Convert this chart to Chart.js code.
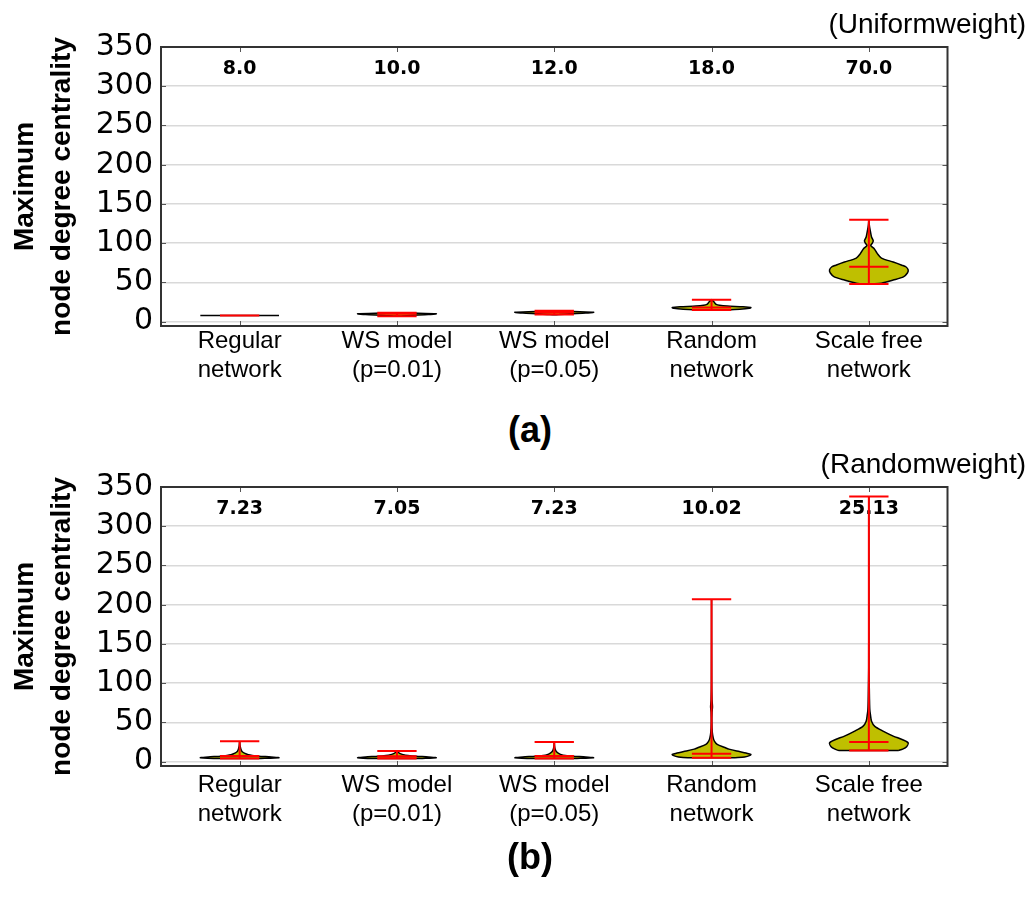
<!DOCTYPE html>
<html>
<head>
<meta charset="utf-8">
<script src="https://cdn.jsdelivr.net/npm/chart.js@4.4.1/dist/chart.umd.min.js"></script>
<style>
body { margin: 0; background: #fff; }
#wrap { position: relative; width: 1032px; height: 910px; }
canvas { position: absolute; left: 0; }
.panel { position: absolute; left: 480px; width: 100px; text-align: center; font: bold 36px 'Liberation Sans', Arial, sans-serif; line-height: 40px; color: #000; }
</style>
</head>
<body>
<div id="wrap">
  <canvas id="uniform" width="1032" height="400" style="top:0"></canvas>
  <div class="panel" style="top:410px">(a)</div>
  <canvas id="random" width="1032" height="400" style="top:440px"></canvas>
  <div class="panel" style="top:837px">(b)</div>
</div>
<script>
'use strict';

var categories = [['Regular', 'network'], ['WS model', '(p=0.01)'], ['WS model', '(p=0.05)'], ['Random', 'network'], ['Scale free', 'network']];
var positions = [1, 2, 3, 4, 5];
var yTicks = [0, 50, 100, 150, 200, 250, 300, 350];

// violin outlines as [value, half width], bottom to top
var regUniform = [[8, 0.25]];
var ws1Uniform = [[7, 0.02], [8, 0.08], [9, 0.2], [10, 0.25], [11, 0.1], [11.5, 0]];
var ws5Uniform = [[9, 0.03], [10, 0.1], [11, 0.2], [12, 0.25], [13, 0.12], [14, 0]];
var rndUniform = [[15, 0.05], [16, 0.18], [17, 0.24], [18, 0.25], [19, 0.2], [20, 0.1], [21, 0.05], [22, 0.03], [24, 0.02], [26, 0.012], [28, 0]];
var sfUniform = [[48, 0.02], [49, 0.08], [53, 0.155], [57, 0.22], [62, 0.245], [66, 0.25], [70, 0.235], [72, 0.21], [76, 0.155], [81, 0.08], [87, 0.053], [93, 0.034], [97, 0.012], [100, 0.022], [103, 0.028], [108, 0.017], [117, 0.008], [123, 0.003], [130, 0]];
var uniformMeans = [8.0, 10.0, 12.0, 18.0, 70.0];
var uniformMins = [8, 7, 9, 15, 48];
var uniformMaxs = [8, 11.5, 14, 28, 130];

var regRandom = [[4, 0.12], [5, 0.25], [6, 0.2], [7, 0.12], [8, 0.08], [9, 0.055], [11, 0.03], [13, 0.015], [16, 0.008], [20, 0.003], [26, 0]];
var ws1Random = [[4, 0.15], [5, 0.25], [6, 0.2], [7, 0.12], [8, 0.07], [9, 0.04], [10, 0.025], [11, 0.015], [12, 0.008], [13.5, 0]];
var ws5Random = [[4, 0.13], [5, 0.25], [6, 0.2], [7, 0.12], [8, 0.07], [9, 0.045], [11, 0.025], [13, 0.013], [16, 0.006], [20, 0.002], [25, 0]];
var rndRandom = [[5, 0.15], [6, 0.21], [8, 0.245], [9.3, 0.25], [11, 0.22], [13.5, 0.16], [16, 0.11], [18, 0.085], [22, 0.036], [26, 0.019], [30, 0.011], [37, 0.005], [50, 0.002], [63, 0.003], [70, 0.006], [79, 0.003], [100, 0.001], [207, 0]];
var sfRandom = [[14.4, 0.19], [16, 0.215], [19, 0.24], [24, 0.25], [28, 0.215], [32.6, 0.155], [39, 0.09], [45, 0.038], [51.6, 0.017], [60, 0.01], [66.5, 0.006], [80, 0.004], [92, 0.003], [120, 0.001], [338, 0]];
var randomMeans = [7.23, 7.05, 7.23, 10.02, 25.13];
var randomMins = [4, 4, 4, 5, 14.4];
var randomMaxs = [26, 13.5, 25, 207, 338];

var CAP = 0.125;

function violinPoints(pos, profile) {
    var right = profile.map(function (p) { return {x: pos + p[1], y: p[0]}; });
    var left = profile.slice().reverse().map(function (p) { return {x: pos - p[1], y: p[0]}; });
    var pts = right.concat(left);
    pts.push(pts[0]);
    return pts;
}

function statPoints(pos, min, mean, max) {
    var pts = [{x: pos, y: min}, {x: pos, y: max}, {x: pos, y: null}];
    [min, mean, max].forEach(function (v) {
        pts.push({x: pos - CAP, y: v}, {x: pos + CAP, y: v}, {x: pos, y: null});
    });
    return pts;
}

function buildDatasets(profiles, mins, means, maxs) {
    var sets = [];
    positions.forEach(function (pos, i) {
        sets.push({
            data: statPoints(pos, mins[i], means[i], maxs[i]),
            borderColor: '#ff0000',
            borderWidth: 2,
            tension: 0,
            order: 0
        });
        sets.push({
            data: violinPoints(pos, profiles[i]),
            borderColor: '#000',
            borderWidth: 1.5,
            backgroundColor: '#bfbf00',
            fill: 'shape',
            tension: 0.25,
            order: 1
        });
    });
    return sets;
}

function panelDecor(means, digits, corner) {
    return {
        id: 'panelDecor',
        beforeDatasetsDraw: function (chart) {
            var ctx = chart.ctx, area = chart.chartArea, xs = chart.scales.x;
            ctx.save();
            ctx.fillStyle = '#000';
            ctx.textAlign = 'center';
            ctx.textBaseline = 'middle';
            ctx.font = 'bold 19px "DejaVu Sans"';
            means.forEach(function (m, i) {
                ctx.fillText(m.toFixed(digits), xs.getPixelForValue(positions[i]), area.top + 22);
            });
            ctx.font = '28px "Liberation Sans"';
            ctx.textAlign = 'right';
            ctx.fillText(corner, chart.width - 6, area.top - 22);
            ctx.restore();
        },
        afterDraw: function (chart) {
            var ctx = chart.ctx, a = chart.chartArea, xs = chart.scales.x, ys = chart.scales.y;
            ctx.save();
            // small inward ticks on all four sides
            ctx.strokeStyle = '#555';
            ctx.lineWidth = 1;
            ctx.beginPath();
            positions.forEach(function (p) {
                var px = Math.round(xs.getPixelForValue(p)) + 0.5;
                ctx.moveTo(px, a.bottom); ctx.lineTo(px, a.bottom - 5);
                ctx.moveTo(px, a.top); ctx.lineTo(px, a.top + 5);
            });
            yTicks.forEach(function (v) {
                var py = Math.round(ys.getPixelForValue(v)) + 0.5;
                ctx.moveTo(a.left, py); ctx.lineTo(a.left + 5, py);
                ctx.moveTo(a.right, py); ctx.lineTo(a.right - 5, py);
            });
            ctx.stroke();
            ctx.strokeStyle = '#333';
            ctx.lineWidth = 2;
            ctx.strokeRect(a.left, a.top, a.right - a.left, a.bottom - a.top);
            ctx.restore();
        }
    };
}

function makeChart(id, datasets, decor, labelPad) {
    return new Chart(document.getElementById(id), {
        type: 'scatter',
        data: {datasets: datasets},
        options: {
            responsive: false,
            animation: false,
            showLine: true,
            layout: {padding: {top: 47, right: 84.5, left: 0, bottom: 0}},
            elements: {point: {radius: 0, hoverRadius: 0}},
            plugins: {legend: {display: false}, tooltip: {enabled: false}},
            scales: {
                x: {
                    type: 'linear',
                    min: 0.5,
                    max: 5.5,
                    grid: {display: false},
                    border: {display: false},
                    afterBuildTicks: function (s) { s.ticks = positions.map(function (v) { return {value: v}; }); },
                    afterFit: function (s) { s.height = 400 - 326; },
                    ticks: {
                        autoSkip: false,
                        maxRotation: 0,
                        padding: labelPad,
                        color: '#000',
                        font: {family: 'Liberation Sans', size: 24, lineHeight: 1.2},
                        callback: function (v) { return categories[v - 1]; }
                    }
                },
                y: {
                    min: -5.5,
                    max: 350,
                    border: {display: false},
                    grid: {color: '#d9d9d9', lineWidth: 1.5, drawTicks: false},
                    afterBuildTicks: function (s) { s.ticks = yTicks.map(function (v) { return {value: v}; }); },
                    afterFit: function (s) { s.width = 161; },
                    ticks: {padding: 8, color: '#000', font: {family: 'DejaVu Sans', size: 30}},
                    title: {
                        display: true,
                        text: ['Maximum', 'node degree centrality'],
                        color: '#000',
                        padding: {top: 6.5, bottom: 0},
                        font: {family: 'Liberation Sans', weight: 'bold', size: 28, lineHeight: 1.32}
                    }
                }
            }
        },
        plugins: [decor]
    });
}

makeChart('uniform',
    buildDatasets([regUniform, ws1Uniform, ws5Uniform, rndUniform, sfUniform], uniformMins, uniformMeans, uniformMaxs),
    panelDecor(uniformMeans, 1, '(Uniformweight)'), -7);

makeChart('random',
    buildDatasets([regRandom, ws1Random, ws5Random, rndRandom, sfRandom], randomMins, randomMeans, randomMaxs),
    panelDecor(randomMeans, 2, '(Randomweight)'), -3);
</script>
</body>
</html>
